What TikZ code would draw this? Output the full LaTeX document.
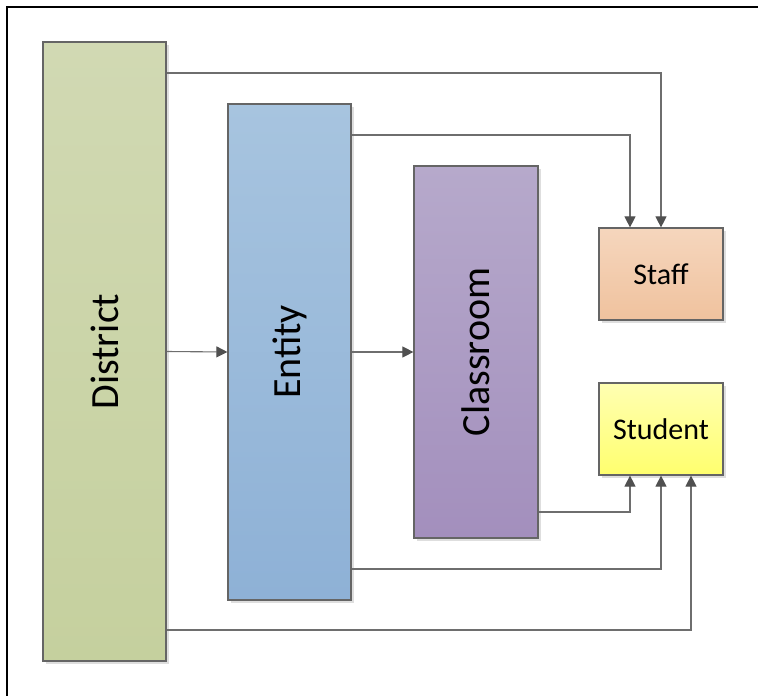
\documentclass[tikz,border=0pt]{standalone}
\usepackage{fontspec}
\setmainfont{Carlito}
\usepackage{graphicx}
\usetikzlibrary{arrows.meta,shadows}
\definecolor{linec}{HTML}{6E6E6E}
\definecolor{tipc}{HTML}{505050}
\definecolor{edgec}{HTML}{656565}
\begin{document}
\begin{tikzpicture}[x=1pt,y=-1pt,
  box/.style={draw=edgec,line width=1.2pt,inner sep=0pt,
    drop shadow={shadow xshift=3pt,shadow yshift=-3pt,fill=black!13,opacity=1}},
  bigtext/.style={font=\fontsize{40}{48}\selectfont},
  smalltext/.style={font=\fontsize{30}{36}\selectfont},
  conn/.style={draw=linec,line width=1.1pt,-{Triangle[length=11pt,width=11pt,color=tipc]}}]
\path[use as bounding box] (0,0) rectangle (758,696);
\fill[black] (6,6) rectangle (8,696);
\fill[black] (6,6) rectangle (758,8);
% boxes
\node[box,minimum width=123pt,minimum height=619pt,top color={rgb,255:red,209;green,217;blue,179},bottom color={rgb,255:red,197;green,208;blue,158},bigtext] (district) at (104.5,351.5) {\rotatebox{90}{District}};
\node[box,minimum width=123pt,minimum height=496pt,top color={rgb,255:red,167;green,196;blue,223},bottom color={rgb,255:red,142;green,177;blue,214},bigtext] (entity) at (289.5,352) {\rotatebox{90}{Entity}};
\node[box,minimum width=124pt,minimum height=372pt,top color={rgb,255:red,182;green,169;blue,203},bottom color={rgb,255:red,163;green,143;blue,189},bigtext] (classroom) at (476,352) {\rotatebox{90}{Classroom}};
\node[box,minimum width=124pt,minimum height=92pt,top color={rgb,255:red,245;green,214;blue,189},bottom color={rgb,255:red,240;green,194;blue,158},smalltext] (staff) at (661,274) {Staff};
\node[box,minimum width=124pt,minimum height=92pt,top color={rgb,255:red,255;green,255;blue,178},bottom color={rgb,255:red,255;green,255;blue,110},smalltext] (student) at (661,429) {Student};
% routing points
\coordinate (c1) at (661,73);
\coordinate (c2) at (630,135);
\coordinate (c3) at (630,512);
\coordinate (c4) at (661,569);
\coordinate (c5) at (691,630);
% connectors
\draw[conn] (district.east |- c1) -| (staff.north -| c1);
\draw[conn] (entity.east |- c2) -| (staff.north -| c2);
\draw[conn] (district.east) -- (entity.west);
\draw[conn] (entity.east) -- (classroom.west);
\draw[conn] (classroom.east |- c3) -| (student.south -| c3);
\draw[conn] (entity.east |- c4) -| (student.south -| c4);
\draw[conn] (district.east |- c5) -| (student.south -| c5);
\end{tikzpicture}
\end{document}
